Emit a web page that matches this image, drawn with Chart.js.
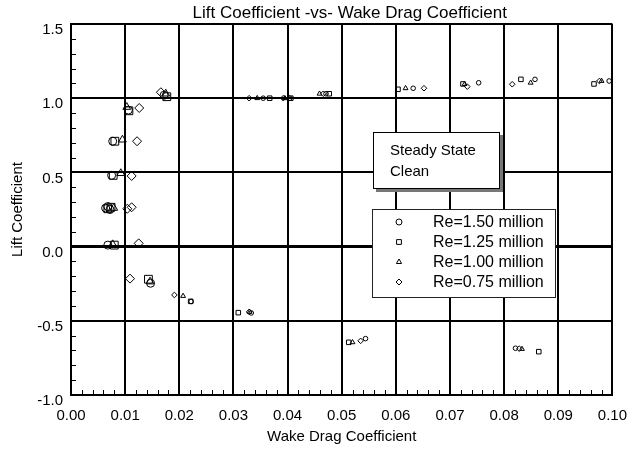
<!DOCTYPE html>
<html>
<head>
<meta charset="utf-8">
<script src="https://cdn.jsdelivr.net/npm/chart.js@4.4.0/dist/chart.umd.min.js"></script>
<style>
  html, body { margin: 0; padding: 0; background: #fff; }
  canvas { display: block; }
</style>
</head>
<body>
<canvas id="chart" width="631" height="454"></canvas>
<script>
// wake drag (x) vs lift (y)
const seriesNames = ['Re=1.50 million', 'Re=1.25 million', 'Re=1.00 million', 'Re=0.75 million'];

const re150X = [0.0821, 0.0544, 0.0333, 0.0222, 0.0147, 0.0068, 0.0064, 0.0068, 0.0072, 0.0075, 0.0077, 0.0106, 0.0172, 0.0355, 0.0404, 0.0471, 0.0632, 0.0753, 0.0857, 0.0994];
const re150Y = [-0.685, -0.620, -0.447, -0.370, -0.247, 0.010, 0.260, 0.270, 0.250, 0.480, 0.710, 0.920, 1.020, 1.000, 1.000, 1.030, 1.067, 1.104, 1.127, 1.116];

const re125X = [0.0864, 0.0513, 0.0309, 0.0221, 0.0143, 0.0080, 0.0068, 0.0074, 0.0078, 0.0081, 0.0107, 0.0177, 0.0367, 0.0406, 0.0477, 0.0604, 0.0724, 0.0831, 0.0966];
const re125Y = [-0.708, -0.645, -0.445, -0.369, -0.220, 0.010, 0.255, 0.265, 0.480, 0.710, 0.915, 1.010, 1.000, 1.000, 1.030, 1.060, 1.096, 1.127, 1.096];

const re100X = [0.0833, 0.0520, 0.0330, 0.0207, 0.0146, 0.0077, 0.0079, 0.0092, 0.0095, 0.0103, 0.0175, 0.0344, 0.0395, 0.0459, 0.0618, 0.0727, 0.0849, 0.0980];
const re100Y = [-0.690, -0.645, -0.440, -0.333, -0.236, 0.015, 0.260, 0.494, 0.720, 0.940, 1.030, 1.000, 1.000, 1.030, 1.067, 1.095, 1.104, 1.116];

const re075X = [0.0828, 0.0535, 0.0329, 0.0191, 0.0109, 0.0125, 0.0104, 0.0112, 0.0112, 0.0122, 0.0126, 0.0166, 0.0329, 0.0392, 0.0466, 0.0652, 0.0732, 0.0815, 0.0976];
const re075Y = [-0.688, -0.635, -0.440, -0.326, -0.216, 0.022, 0.255, 0.265, 0.476, 0.710, 0.934, 1.040, 1.000, 1.000, 1.030, 1.067, 1.078, 1.094, 1.116];

const xTickLabels = ['0.00', '0.01', '0.02', '0.03', '0.04', '0.05', '0.06', '0.07', '0.08', '0.09', '0.10'];
const yTickLabels = ['-1.0', '-0.5', '0.0', '0.5', '1.0', '1.5'];
const noteLines = ['Steady State', 'Clean'];

const FONT = '"Liberation Sans", Arial, sans-serif';
const styles = ['circle', 'rect', 'triangle', 'rectRot'];
// big markers at low drag, small ones further out
const bigSize = [4, 5.5, 4.5, 4.5];
const smallSize = [2.3, 3.2, 2.8, 2.8];

function toPoints(xs, ys) {
    return xs.map((x, i) => ({ x: x, y: ys[i] }));
}

const allX = [re150X, re125X, re100X, re075X];
const allY = [re150Y, re125Y, re100Y, re075Y];

const datasets = seriesNames.map((name, k) => ({
    label: name,
    data: toPoints(allX[k], allY[k]),
    pointStyle: styles[k],
    pointRadius: ctx => (ctx.raw && ctx.raw.x < 0.018) ? bigSize[k] : smallSize[k],
    pointBorderWidth: 1,
    borderColor: '#000',
    backgroundColor: 'rgba(0,0,0,0)',
    showLine: false
}));

// centre the title over the plot frame (a bit right of it, like the original)
const titleOverPlot = {
    id: 'titleOverPlot',
    afterLayout(chart) {
        if (chart.titleBlock) {
            chart.titleBlock.left = chart.chartArea.left + 16;
            chart.titleBlock.right = chart.chartArea.right;
        }
    }
};

// minor tick marks inside the left and bottom axes
const minorTicks = {
    id: 'minorTicks',
    beforeDatasetsDraw(chart) {
        const { ctx, chartArea, scales } = chart;
        ctx.save();
        ctx.strokeStyle = '#000';
        ctx.lineWidth = 1;
        ctx.beginPath();
        for (let i = 1; i < 50; i++) {
            if (i % 5 === 0) continue;
            const px = Math.round(scales.x.getPixelForValue(i * 0.002)) + 0.5;
            ctx.moveTo(px, chartArea.bottom);
            ctx.lineTo(px, chartArea.bottom - 5);
        }
        for (let i = 1; i < 25; i++) {
            if (i % 5 === 0) continue;
            const py = Math.round(scales.y.getPixelForValue(-1 + i * 0.1)) + 0.5;
            ctx.moveTo(chartArea.left, py);
            ctx.lineTo(chartArea.left + 5, py);
        }
        ctx.stroke();
        ctx.restore();
    }
};

// text box and the boxed legend inside the plot
const boxes = {
    id: 'boxes',
    afterDatasetsDraw(chart) {
        const ctx = chart.ctx;
        ctx.save();
        // note box with shadow
        ctx.fillStyle = '#777';
        ctx.fillRect(376, 135, 127, 57);
        ctx.fillStyle = '#fff';
        ctx.fillRect(373, 132, 127, 57);
        ctx.strokeStyle = '#000';
        ctx.lineWidth = 1;
        ctx.strokeRect(373.5, 132.5, 126, 56);
        ctx.fillStyle = '#000';
        ctx.font = '15px ' + FONT;
        ctx.textBaseline = 'middle';
        ctx.textAlign = 'left';
        ctx.fillText(noteLines[0], 390, 151);
        ctx.fillText(noteLines[1], 390, 172);

        // legend
        ctx.fillStyle = '#fff';
        ctx.fillRect(372, 209, 184, 89);
        ctx.strokeStyle = '#222';
        ctx.strokeRect(372.5, 209.5, 183, 88);
        ctx.font = '16px ' + FONT;
        seriesNames.forEach((name, k) => {
            const y = 222 + k * 20;
            ctx.fillStyle = '#fff';
            ctx.strokeStyle = '#000';
            Chart.helpers.drawPoint(ctx, {
                pointStyle: styles[k],
                radius: k === 1 ? 3.4 : 3,
                borderWidth: 1,
                rotation: 0
            }, 399, y);
            ctx.fillStyle = '#000';
            ctx.fillText(name, 433, y + 1);
        });
        ctx.restore();
    }
};

new Chart(document.getElementById('chart'), {
    type: 'scatter',
    data: { datasets: datasets },
    options: {
        responsive: false,
        animation: false,
        layout: { padding: { left: 0, right: 18, top: 0, bottom: 0 } },
        scales: {
            x: {
                type: 'linear',
                min: 0,
                max: 0.1,
                afterFit(scale) { scale.height = 59; },
                ticks: {
                    stepSize: 0.01,
                    color: '#000',
                    font: { family: FONT, size: 15 },
                    padding: 4,
                    maxRotation: 0,
                    callback: (v, i) => xTickLabels[i]
                },
                // invisible tick stubs just push the labels down
                grid: { color: '#000', lineWidth: 2, drawTicks: true, tickLength: 8, tickColor: 'rgba(0,0,0,0)' },
                border: { display: true, color: '#000', width: 2 },
                title: {
                    display: true,
                    text: 'Wake Drag Coefficient',
                    color: '#000',
                    font: { family: FONT, size: 15 },
                    padding: { top: 0, bottom: 8 }
                }
            },
            y: {
                type: 'linear',
                min: -1,
                max: 1.5,
                afterFit(scale) { scale.width = 71; },
                ticks: {
                    stepSize: 0.5,
                    color: '#000',
                    font: { family: FONT, size: 15 },
                    padding: 8,
                    labelOffset: 6,
                    callback: (v, i) => yTickLabels[i]
                },
                grid: {
                    color: '#000',
                    lineWidth: ctx => ctx.tick && ctx.tick.value === 0 ? 3 : 2,
                    drawTicks: false
                },
                border: { display: true, color: '#000', width: 2 },
                title: {
                    display: true,
                    text: 'Lift Coefficient',
                    color: '#000',
                    font: { family: FONT, size: 15 },
                    padding: { top: 9, bottom: 0 }
                }
            }
        },
        plugins: {
            legend: { display: false },
            tooltip: { enabled: false },
            title: {
                display: true,
                text: 'Lift Coefficient -vs- Wake Drag Coefficient',
                color: '#000',
                font: { family: FONT, size: 17, weight: 'normal' },
                padding: { top: 3, bottom: 0.6 }
            }
        }
    },
    plugins: [titleOverPlot, minorTicks, boxes]
});
</script>
</body>
</html>
